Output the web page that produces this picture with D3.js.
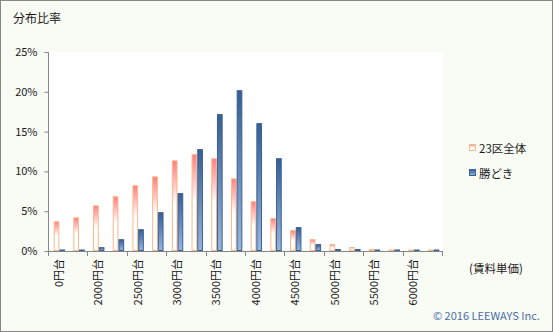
<!DOCTYPE html>
<html>
<head>
<meta charset="utf-8">
<script src="https://cdn.jsdelivr.net/npm/d3@7/dist/d3.min.js"></script>
<style>
  html, body { margin: 0; padding: 0; background: #f9fbf5; }
  svg { display: block; }
  text { font-family: "Noto Sans CJK JP", "Noto Sans", sans-serif; fill: #1a1a1a; }
</style>
</head>
<body>
<svg id="chart" width="553" height="332"></svg>
<script>
// Rent-per-unit buckets (円台), step 250 from 2000
const categories = ["0円台", "1750円台", "2000円台", "2250円台", "2500円台", "2750円台",
  "3000円台", "3250円台", "3500円台", "3750円台", "4000円台", "4250円台", "4500円台",
  "4750円台", "5000円台", "5250円台", "5500円台", "5750円台", "6000円台", "6250円台"];

// Share of listings per bucket (%)
const seriesNames = ["23区全体", "勝どき"];
const wardValues = [3.73, 4.23, 5.74, 6.87, 8.27, 9.38, 11.39, 12.17, 11.65, 9.13,
  6.26, 4.13, 2.62, 1.49, 0.88, 0.5, 0.25, 0.12, 0.1, 0.08];
const kachidokiValues = [0.13, 0.13, 0.48, 1.48, 2.74, 4.88, 7.27, 12.8, 17.2, 20.2,
  16.06, 11.66, 3.0, 0.86, 0.25, 0.25, 0.12, 0.12, 0.1, 0.1];

const yTicks = [0, 5, 10, 15, 20, 25];
const tickLabels = categories.filter((c, i) => i % 2 === 0);

const svg = d3.select("#chart");
const W = 553, H = 332;

// page frame
svg.append("rect").attr("x", 0.5).attr("y", 0.5).attr("width", W - 1).attr("height", H - 1)
  .attr("fill", "#f9fbf5").attr("stroke", "#868686");

const plot = { left: 49, right: 443, top: 52, bottom: 251 };

// plot background
svg.append("rect").attr("x", plot.left).attr("y", plot.top)
  .attr("width", plot.right - plot.left).attr("height", plot.bottom - plot.top)
  .attr("fill", "#ffffff");

const x0 = d3.scaleBand().domain(categories).range([plot.left, plot.right]).padding(0);
const x1 = d3.scaleBand().domain(seriesNames).range([0, x0.bandwidth()])
  .paddingInner(0).paddingOuter(0.73);
const y = d3.scaleLinear().domain([0, 25]).range([plot.bottom, plot.top]);

// gradients
const defs = svg.append("defs");
const gPink = defs.append("linearGradient").attr("id", "gWard")
  .attr("x1", 0).attr("y1", 0).attr("x2", 0).attr("y2", 1);
gPink.append("stop").attr("offset", "0%").attr("stop-color", "#ff7d80");
gPink.append("stop").attr("offset", "48%").attr("stop-color", "#ffffff");
gPink.append("stop").attr("offset", "100%").attr("stop-color", "#ffffff");

const gBlue = defs.append("linearGradient").attr("id", "gKachi")
  .attr("x1", 0).attr("y1", 0).attr("x2", 0).attr("y2", 1);
gBlue.append("stop").attr("offset", "0%").attr("stop-color", "#375e92");
gBlue.append("stop").attr("offset", "100%").attr("stop-color", "#98b5dc");

const styles = {
  "23区全体": { fill: "url(#gWard)", stroke: "#f9b98a" },
  "勝どき": { fill: "url(#gKachi)", stroke: "#3a6194" }
};

const rows = categories.map((c, i) => ({
  cat: c,
  vals: [{ s: seriesNames[0], v: wardValues[i] }, { s: seriesNames[1], v: kachidokiValues[i] }]
}));

const groups = svg.append("g").selectAll("g").data(rows).join("g")
  .attr("transform", d => `translate(${x0(d.cat) + 0.5},0)`);

// bars: tiny values still show as a one-pixel sliver
groups.selectAll("rect").data(d => d.vals).join("rect")
  .attr("x", d => x1(d.s) + 0.5)
  .attr("y", d => Math.min(y(d.v), y(0) - 1.5) + 0.5)
  .attr("width", x1.bandwidth() - 1)
  .attr("height", d => Math.max(0.5, y(0) - y(d.v) - 1))
  .attr("fill", d => styles[d.s].fill)
  .attr("stroke", d => styles[d.s].stroke)
  .attr("stroke-width", 1);

// y axis
const yAxis = d3.axisLeft(y).tickValues(yTicks).tickFormat(d => d + "%")
  .tickSize(4).tickPadding(7);
const gy = svg.append("g").attr("transform", `translate(${plot.left - 0.5},0)`).call(yAxis);
gy.select(".domain").attr("stroke", "#868686").attr("d", `M-4,${plot.top + 0.5}H0V${plot.bottom}`);
gy.selectAll(".tick line").attr("stroke", "#868686");
gy.selectAll(".tick text").style("font-size", "11px").attr("fill", "#1a1a1a")
  .style("font-family", "'Noto Sans CJK JP', sans-serif");

// x axis line and ticks at every second category boundary
const gx = svg.append("g");
gx.append("line").attr("x1", plot.left - 0.5).attr("x2", plot.right)
  .attr("y1", plot.bottom + 0.5).attr("y2", plot.bottom + 0.5).attr("stroke", "#868686");
const boundaries = categories.map(c => x0(c)).concat([plot.right]).filter((v, i) => i % 2 === 0);
gx.selectAll("line.tk").data(boundaries).join("line").attr("class", "tk")
  .attr("x1", d => Math.round(d) - 0.5).attr("x2", d => Math.round(d) - 0.5)
  .attr("y1", plot.bottom).attr("y2", plot.bottom + 5).attr("stroke", "#868686");

gx.selectAll("text").data(tickLabels).join("text")
  .attr("transform", d => `translate(${x0(d) + x0.bandwidth() / 2 + 4},${plot.bottom + 8}) rotate(-90)`)
  .attr("text-anchor", "end")
  .style("font-size", "11px")
  .text(d => d);

// titles
svg.append("text").attr("x", 13).attr("y", 23).style("font-size", "12px").text("分布比率");
svg.append("text").attr("x", 469).attr("y", 273).style("font-size", "11.5px").text("(賃料単価)");

// legend
const legend = svg.append("g");
const legendY = [148, 173];
seriesNames.forEach((s, i) => {
  legend.append("rect").attr("x", 469.5).attr("y", legendY[i] - 3.5).attr("width", 6).attr("height", 6)
    .attr("fill", styles[s].fill).attr("stroke", styles[s].stroke);
  legend.append("text").attr("x", 479).attr("y", legendY[i] + 4.5)
    .style("font-size", "11.5px").text(s);
});

// credit
svg.append("text").attr("x", 433).attr("y", 320).style("font-size", "11px")
  .style("fill", "#4a6ea8").text("© 2016 LEEWAYS Inc.");
</script>
</body>
</html>
